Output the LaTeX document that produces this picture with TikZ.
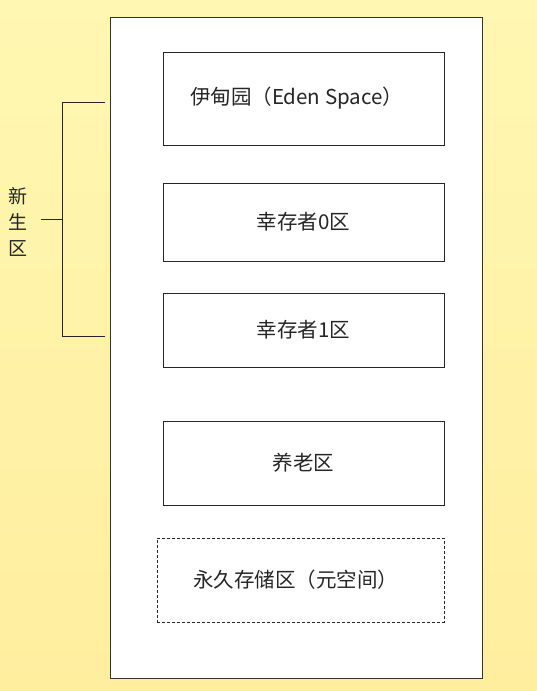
\documentclass[tikz,border=0pt]{standalone}
\usepackage{fontspec}
\setmainfont{Noto Sans CJK SC}
\begin{document}
\begin{tikzpicture}[x=1pt,y=-1pt,
  region/.style={draw=black!85, fill=white, line width=1pt, inner sep=0pt,
    minimum width=281pt, font=\fontsize{20.5}{24}\selectfont, text=black!85},
  permbox/.style={region, dashed, dash pattern=on 3pt off 2pt},
  brk/.style={draw=black!85, line width=1pt}]
\useasboundingbox (0,0) rectangle (537,691);
\shade[top color={rgb,255:red,255;green,247;blue,178}, bottom color={rgb,255:red,255;green,238;blue,158}] (0,0) rectangle (537,691);
% container
\node[draw=black!80, fill=white, line width=1pt, minimum width=372pt, minimum height=661pt, inner sep=0pt] (mem) at (296,347.5) {};
% regions
\node[region, minimum height=93pt] (eden) at (303.5,98.5) {\hspace*{-14pt}伊甸园（Eden Space）};
\node[region, minimum height=78pt] (s0) at (303.5,222) {幸存者0区};
\node[region, minimum height=74pt] (s1) at (303.5,330) {幸存者1区};
\node[region, minimum height=84pt] (old) at (303.5,463) {养老区};
\node[permbox, minimum width=287pt, minimum height=84pt] (perm) at (300.5,580) {\hspace*{-10pt}永久存储区（元空间）};
% bracket
\node[font=\fontsize{19}{26}\selectfont, text=black!85, align=center, inner sep=0pt] (young) at (18,222) {新\\生\\区};
\coordinate (bt) at (105,102);
\coordinate (bb) at (105,336);
\coordinate (vt) at (62,102);
\coordinate (vb) at (62,336);
\coordinate (vm) at (62,219);
\coordinate (tk) at (41,219);
\draw[brk] (bt) -- (vt) -- (vb) -- (bb);
\draw[brk] (tk) -- (vm);
\end{tikzpicture}
\end{document}
